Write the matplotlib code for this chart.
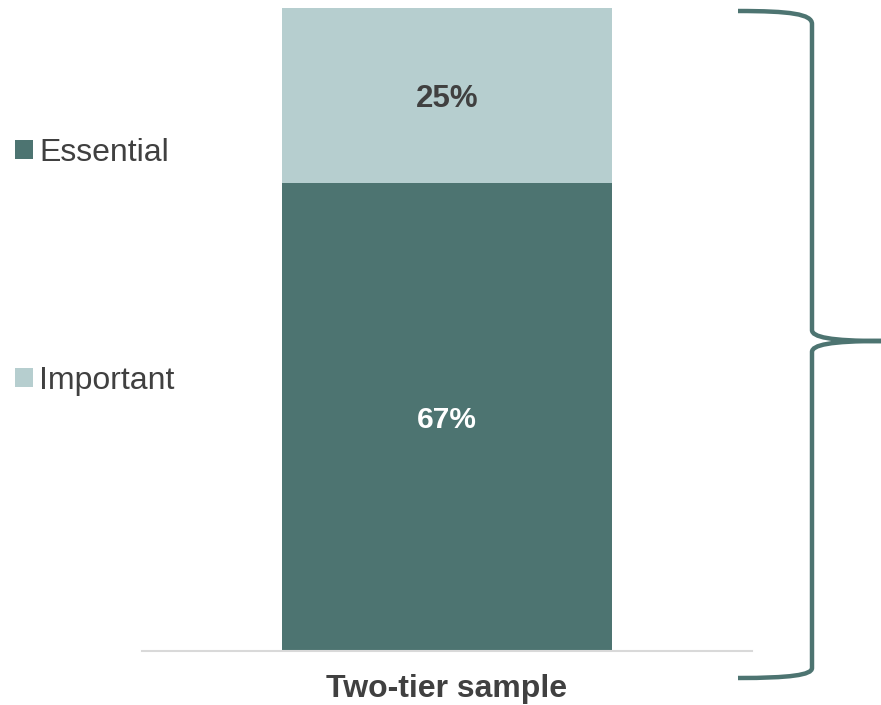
import matplotlib
matplotlib.use("Agg")
import matplotlib.pyplot as plt
from matplotlib.path import Path
from matplotlib.patches import PathPatch

# ---- data -------------------------------------------------------------------
categories = ["Two-tier sample"]
essential = [67]
important = [25]
series_names = ["Essential", "Important"]

DARK = "#4d7471"
LIGHT = "#b6cecf"
INK = "#404040"
AXIS = "#d9d9d9"

plt.rcParams["font.family"] = ["Liberation Sans", "DejaVu Sans"]

W, H = 881, 705
fig = plt.figure(figsize=(W / 100, H / 100), dpi=100)
# axes box in pixel terms: x 142..752, y 8..651 (from top)
ax = fig.add_axes([142 / W, (H - 651) / H, (752 - 142) / W, (651 - 8) / H])

x = range(len(categories))
b1 = ax.bar(x, essential, width=0.541, color=DARK, label=series_names[0])
b2 = ax.bar(x, important, width=0.541, bottom=essential, color=LIGHT,
            label=series_names[1])

# labels sit a touch below the geometric centre, as in the original
for i, v in enumerate(essential):
    ax.text(i, v / 2 - 0.5, f"{v}%", ha="center", va="center", fontsize=21.5,
            fontweight="bold", color="white")
for i, (b, v) in enumerate(zip(essential, important)):
    ax.text(i, b + v / 2 - 0.5, f"{v}%", ha="center", va="center", fontsize=22.5,
            fontweight="bold", color=INK)

ax.set_xlim(-0.5, 0.5)
ax.set_ylim(0, 92)
ax.set_yticks([])
ax.set_xticks(list(x))
ax.set_xticklabels(categories, fontsize=23, fontweight="bold", color=INK)
ax.tick_params(axis="x", length=0, pad=16.5)
for s in ("top", "right", "left"):
    ax.spines[s].set_visible(False)
ax.spines["bottom"].set_color(AXIS)
ax.spines["bottom"].set_linewidth(1.5)

fig.legend(handles=[b1, b2], labels=series_names, loc="upper left",
           bbox_to_anchor=(15 / W, 1 - 138 / H), frameon=False, fontsize=23,
           labelcolor=INK, handlelength=0.55, handleheight=0.55,
           handletextpad=0.2, borderpad=0, borderaxespad=0, labelspacing=6.2)

# ---- curly brace on the right --------------------------------------------------
ov = fig.add_axes([0, 0, 1, 1], facecolor="none")
ov.set_xlim(0, W); ov.set_ylim(H, 0); ov.axis("off")
verts = [(738, 11), (790, 11), (812, 14), (812, 24),
         (812, 330),
         (812, 337), (830, 341), (881, 341),
         (830, 341), (812, 345), (812, 352),
         (812, 668),
         (812, 675), (790, 678), (738, 678)]
codes = [Path.MOVETO, Path.CURVE4, Path.CURVE4, Path.CURVE4,
         Path.LINETO,
         Path.CURVE4, Path.CURVE4, Path.CURVE4,
         Path.CURVE4, Path.CURVE4, Path.CURVE4,
         Path.LINETO,
         Path.CURVE4, Path.CURVE4, Path.CURVE4]
ov.add_patch(PathPatch(Path(verts, codes), fc="none", ec=DARK, lw=3.2,
                       capstyle="butt", joinstyle="miter"))

fig.savefig("out.png", dpi=100, facecolor="white")
